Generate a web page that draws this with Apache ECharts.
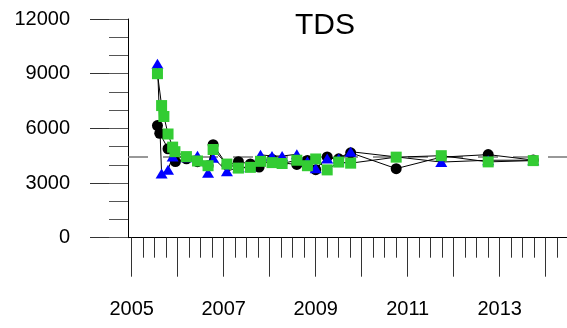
<!DOCTYPE html>
<html>
<head>
<meta charset="utf-8">
<script src="https://cdn.jsdelivr.net/npm/echarts@6/dist/echarts.min.js"></script>
<style>
html,body{margin:0;padding:0;background:#fff;}
#c{width:567px;height:328px;}
</style>
</head>
<body>
<div id="c"></div>
<script>
// ---- data (decimal years, TDS values) ----
const blackDates = [2005.56, 2005.61, 2005.79, 2005.95, 2006.19, 2006.43, 2006.66, 2006.77, 2007.07, 2007.32, 2007.58, 2007.77, 2008.05, 2008.27, 2008.59, 2008.82, 2009.00, 2009.25, 2009.50, 2009.76, 2010.75, 2011.73, 2012.75, 2013.73];
const blackValues = [6150, 5730, 4880, 4180, 4330, 4170, 3950, 5100, 4000, 4170, 4050, 3880, 4300, 4100, 4020, 4240, 3730, 4430, 4330, 4660, 3790, 4420, 4560, 4260];

const blueDates = [2005.56, 2005.65, 2005.79, 2005.89, 2006.19, 2006.43, 2006.66, 2006.77, 2007.07, 2007.32, 2007.58, 2007.80, 2008.05, 2008.27, 2008.59, 2008.82, 2009.00, 2009.25, 2009.50, 2009.76, 2011.73, 2012.75, 2013.73];
const blueValues = [9550, 3520, 3730, 4450, 4420, 4500, 3560, 4380, 3650, 3850, 3880, 4550, 4480, 4480, 4580, 4200, 3810, 4350, 4350, 4720, 4150, 4250, 4250];

const greenDates = [2005.56, 2005.65, 2005.70, 2005.79, 2005.89, 2005.94, 2006.19, 2006.43, 2006.66, 2006.77, 2007.07, 2007.32, 2007.58, 2007.80, 2008.05, 2008.27, 2008.59, 2008.82, 2009.00, 2009.25, 2009.50, 2009.76, 2010.75, 2011.73, 2012.75, 2013.73];
const greenValues = [9000, 7250, 6650, 5690, 4970, 4720, 4450, 4210, 3950, 4840, 4040, 3820, 3860, 4190, 4120, 4070, 4250, 3950, 4320, 3720, 4150, 4090, 4420, 4500, 4160, 4230];

const refValue = 4450;
const yearTicks = [2005, 2006, 2007, 2008, 2009, 2010, 2011, 2012, 2013, 2014];
const yearLabels = [2005, 2007, 2009, 2011, 2013];
const quarterTicks = [];
for (let y = 2005; y <= 2014.25; y += 0.25) quarterTicks.push(+y.toFixed(2));
const yLabelTicks = [0, 3000, 6000, 9000, 12000];

const X_MIN = 2004.9196, X_MAX = 2014.4631;
const FONT = 'Liberation Sans, Arial, sans-serif';

function pairs(d, v) { return d.map((x, i) => [x, v[i]]); }

const chart = echarts.init(document.getElementById('c'), null, {renderer: 'canvas'});
chart.setOption({
  animation: false,
  backgroundColor: '#fff',
  title: {
    text: 'TDS', left: 325, top: 11, padding: 0, textAlign: 'center',
    textStyle: {fontSize: 30, fontWeight: 'normal', color: '#000', fontFamily: FONT}
  },
  grid: {left: 128, top: 19, width: 439, height: 218.7, containLabel: false},
  xAxis: [
    {
      type: 'value', position: 'bottom', min: X_MIN, max: X_MAX,
      axisLine: {show: true, onZero: false, lineStyle: {color: '#000', width: 1}},
      axisTick: {show: true, length: 39, customValues: yearTicks, lineStyle: {color: '#333', width: 1}},
      axisLabel: {show: true, customValues: yearLabels, margin: 62, fontSize: 20, color: '#000', fontFamily: FONT,
        formatter: v => String(Math.round(v))},
      splitLine: {show: false}
    },
    {
      type: 'value', position: 'bottom', min: X_MIN, max: X_MAX,
      axisLine: {show: false, onZero: false},
      axisTick: {show: true, length: 20, customValues: quarterTicks, lineStyle: {color: '#333', width: 1}},
      axisLabel: {show: false},
      splitLine: {show: false}
    }
  ],
  yAxis: [
    {
      type: 'value', position: 'left', min: 0, max: 12000, interval: 3000,
      axisLine: {show: true, lineStyle: {color: '#000', width: 1}},
      axisTick: {show: true, length: 38, lineStyle: {color: '#333', width: 1}},
      axisLabel: {show: true, margin: 58, fontSize: 20, color: '#000', fontFamily: FONT, customValues: yLabelTicks,
        formatter: v => String(Math.round(v))},
      splitLine: {show: false}
    },
    {
      type: 'value', position: 'left', min: 0, max: 12000, interval: 1000,
      axisLine: {show: false},
      axisTick: {show: true, length: 19, lineStyle: {color: '#555', width: 1}},
      axisLabel: {show: false},
      splitLine: {show: false}
    }
  ],
  series: [
    {
      type: 'line', name: 'black', xAxisIndex: 0, yAxisIndex: 0,
      data: pairs(blackDates, blackValues),
      symbol: 'circle', symbolSize: 11, showSymbol: true, showAllSymbol: true,
      itemStyle: {color: '#000'}, lineStyle: {color: '#000', width: 1},
      z: 3,
      markLine: {
        silent: true, symbol: 'none', label: {show: false},
        lineStyle: {color: '#777', width: 1.5, type: [20, 15]},
        data: [{yAxis: refValue}], z: 1
      }
    },
    {
      type: 'line', name: 'blue', xAxisIndex: 0, yAxisIndex: 0,
      data: pairs(blueDates, blueValues),
      symbol: 'triangle', symbolSize: [12, 10], showSymbol: true, showAllSymbol: true,
      itemStyle: {color: '#0000ff'}, lineStyle: {color: '#000', width: 1},
      z: 4
    },
    {
      type: 'line', name: 'green', xAxisIndex: 0, yAxisIndex: 0,
      data: pairs(greenDates, greenValues),
      symbol: 'rect', symbolSize: 11, showSymbol: true, showAllSymbol: true,
      itemStyle: {color: '#33cc33'}, lineStyle: {color: '#000', width: 1},
      z: 5
    }
  ]
});
</script>
</body>
</html>
